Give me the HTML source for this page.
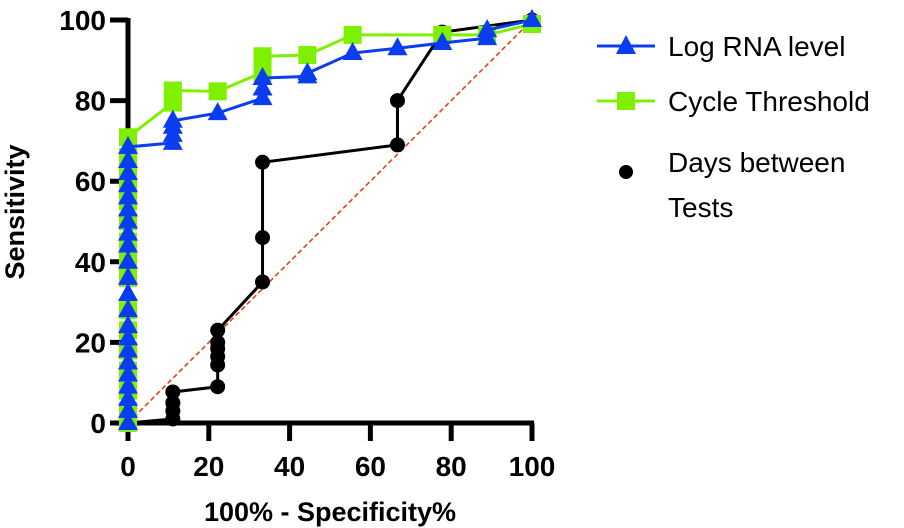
<!DOCTYPE html>
<html><head><meta charset="utf-8"><style>
html,body{margin:0;padding:0;background:#fff;}
svg{display:block;font-family:"Liberation Sans",Arial,sans-serif;}
</style></head><body>
<svg id="chart" width="904" height="528" viewBox="0 0 904 528">
<g id="axes"></g>
<g id="plot"></g>
<text x="330" y="521" text-anchor="middle" font-size="27" font-weight="bold">100% - Specificity%</text>
<text transform="translate(24,212) rotate(-90)" text-anchor="middle" font-size="27" font-weight="bold">Sensitivity</text>
<g>
 <g>
  <line x1="597" y1="46" x2="655" y2="46" stroke="#0a3cf0" stroke-width="3"/>
  <polygon points="626,35 636,54 616,54" fill="#0a3cf0"/>
  <text x="668" y="56" font-size="28">Log RNA level</text>
 </g>
 <g>
  <line x1="597" y1="101" x2="655" y2="101" stroke="#7ef000" stroke-width="3"/>
  <rect x="617" y="92" width="18" height="18" fill="#7ef000"/>
  <text x="668" y="111" font-size="28">Cycle Threshold</text>
 </g>
 <g>
  <circle cx="626" cy="172" r="7" fill="#000"/>
  <text x="668" y="172" font-size="28">Days between</text>
  <text x="668" y="217" font-size="28">Tests</text>
 </g>
</g>
</svg>
<script>
const xTicks=[0,20,40,60,80,100];
const yTicks=[0,20,40,60,80,100];
const ctX=[0,0,0,0,0,0,0,0,0,0,0,0,0,0,0,0,11.1,11.1,22.2,33.3,33.3,44.4,55.6,77.8,88.9,100];
const ctY=[0,3,8,13,18,23,28,36,40,45,50,55,58,62,66,70.9,79.5,82.5,82.3,87,91,91.3,96.3,96.3,96.3,99];
const rnaX=[0,0,0,0,0,0,0,0,0,0,0,0,0,0,0,0,0,0,0,0,0,0,11.1,11.1,11.1,11.1,22.2,33.3,33.3,33.3,44.4,44.4,55.6,66.7,77.8,88.9,88.9,100];
const rnaY=[0,3,6,9,12,15,18,21,24,28,32,36,40,44,47,50,53,56,59,62,65,68.5,69.5,71.5,73.5,75,76.9,80.6,83,85.6,86,86.8,91.8,93,94.3,95.5,97.5,100];
const dayX=[0,11.1,11.1,11.1,11.1,22.2,22.2,22.2,22.2,22.2,22.2,33.3,33.3,33.3,66.7,66.7,77.8,100];
const dayY=[0,1,3,5,7.7,9,14.4,16.5,18.5,20,23,35,46,64.7,69,80,97,100];
const X=v=>128+v*4.04, Y=v=>423-v*4.03;
const NS="http://www.w3.org/2000/svg";
const plot=document.getElementById('plot'), axes=document.getElementById('axes');
function mk(tag,attrs,parent){const e=document.createElementNS(NS,tag);for(const k in attrs)e.setAttribute(k,attrs[k]);parent.appendChild(e);return e;}
let d=mk('line',{x1:X(0),y1:Y(0),x2:X(100),y2:Y(100),stroke:'#e8401c','stroke-width':1.6,'stroke-dasharray':'5,3'},plot);


function pts(xs,ys){return xs.map((x,i)=>X(x)+','+Y(ys[i])).join(' ');}
let l1=mk('polyline',{points:pts(dayX,dayY),fill:'none',stroke:'#000','stroke-width':3},plot);


dayX.forEach((x,i)=>{const c=mk('circle',{cx:X(x),cy:Y(dayY[i]),r:7.5,fill:'#000'},plot);

});
let l2=mk('polyline',{points:pts(ctX,ctY),fill:'none',stroke:'#7ef000','stroke-width':3},plot);


ctX.forEach((x,i)=>{const r=mk('rect',{x:X(x)-9,y:Y(ctY[i])-9,width:18,height:18,fill:'#7ef000'},plot);

});
let l3=mk('polyline',{points:pts(rnaX,rnaY),fill:'none',stroke:'#0a3cf0','stroke-width':3},plot);


rnaX.forEach((x,i)=>{const cx=X(x),cy=Y(rnaY[i]);const p=mk('polygon',{points:`${cx},${cy-11} ${cx+10},${cy+7} ${cx-10},${cy+7}`,fill:'#0a3cf0'},plot);

});
let ya=mk('line',{x1:X(0),y1:Y(100)-2,x2:X(0),y2:Y(0)+18,stroke:'#000','stroke-width':5},axes);


let xa=mk('line',{x1:X(0)-18,y1:Y(0),x2:X(100)+2,y2:Y(0),stroke:'#000','stroke-width':5},axes);


yTicks.forEach(v=>{const t=mk('line',{x1:X(0)-18,y1:Y(v),x2:X(0),y2:Y(v),stroke:'#000','stroke-width':5},axes);


const tx=mk('text',{x:106,y:Y(v)+10,'text-anchor':'end','font-size':28,'font-weight':'bold'},axes);tx.textContent=v;

});
xTicks.forEach(v=>{const t=mk('line',{x1:X(v),y1:Y(0),x2:X(v),y2:Y(0)+18,stroke:'#000','stroke-width':5},axes);


const tx=mk('text',{x:X(v),y:476,'text-anchor':'middle','font-size':28,'font-weight':'bold'},axes);tx.textContent=v;

});
</script>
</body></html>
